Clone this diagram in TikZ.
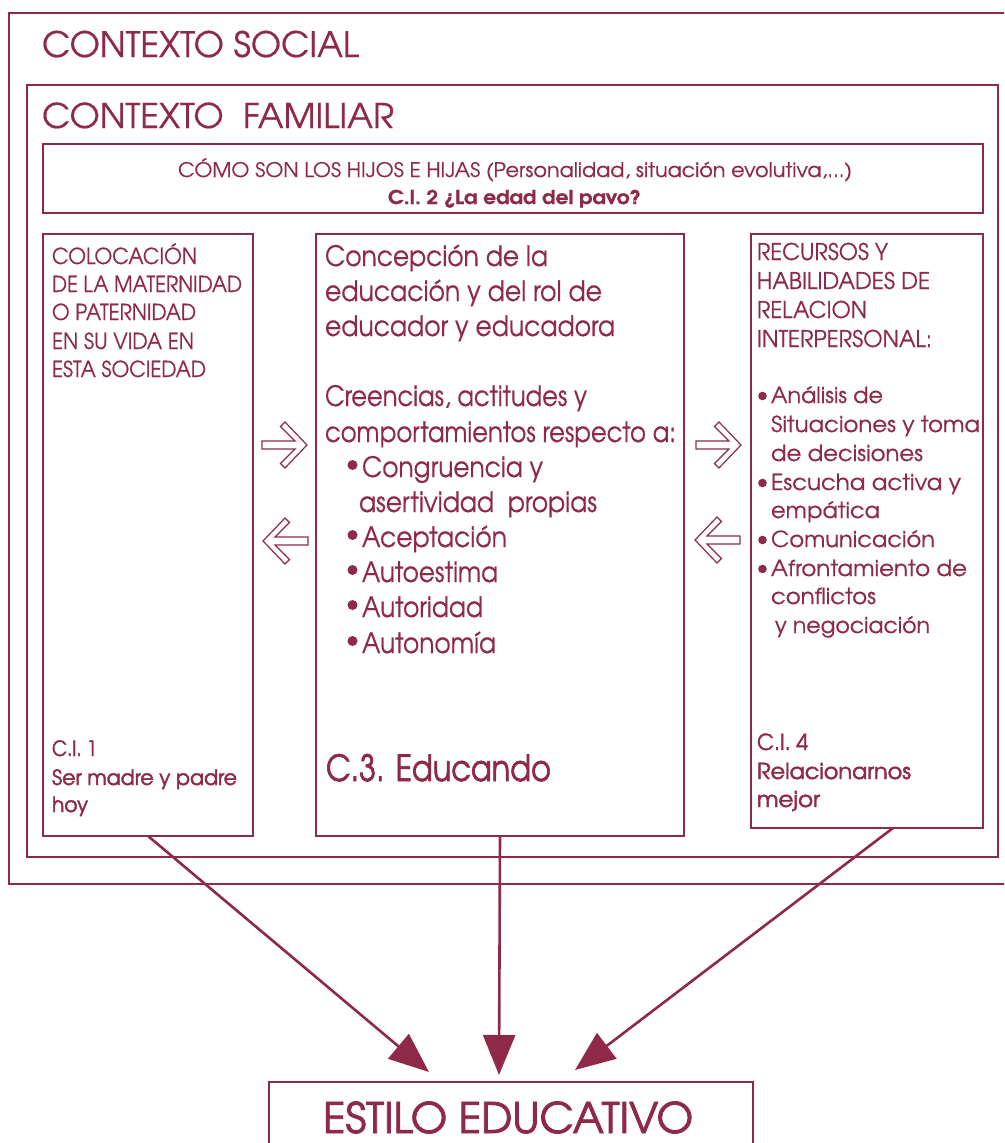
\documentclass[tikz,border=0pt]{standalone}
\usepackage{fontspec}
\usepackage{graphicx}
\setmainfont{texgyreadventor}[Extension=.otf,UprightFont=*-regular,BoldFont=*-bold,ItalicFont=*-italic,BoldItalicFont=*-bolditalic,FakeBold=0.5]
\newfontfamily\semib{texgyreadventor}[Extension=.otf,UprightFont=*-regular,BoldFont=*-bold,FakeBold=2]
\newfontfamily\heavy{texgyreadventor}[Extension=.otf,UprightFont=*-bold,FakeBold=1]
\usetikzlibrary{arrows.meta,calc}
\definecolor{mar}{RGB}{142,42,72}
\newcommand{\fw}[2]{\resizebox{#1pt}{\height}{#2}}
\tikzset{
  boxst/.style={draw=mar, line width=2.6pt, inner sep=0pt, outer sep=0pt, anchor=north west},
  ln/.style={anchor=base west, inner sep=0pt, outer sep=0pt, text=mar},
  bigarrow/.style={draw=mar, line width=2.6pt, -{Triangle[length=40pt,width=32pt]}},
  harrow/.pic={\draw[mar, line width=1.2pt, fill=white, line join=miter]
     (0,0) -- (-22,-23) -- (-26.5,-18.5) -- (-12,-4) -- (-45,-4) -- (-45,4) -- (-12,4) -- (-26.5,18.5) -- (-22,23) -- cycle;},
  bul/.style={fill=mar}
}
\begin{document}
\begin{tikzpicture}[x=1pt,y=-1pt]
\useasboundingbox (0,0) rectangle (1004,1143);
\clip (0,0) rectangle (1004,1143);
\fill[white] (0,0) rectangle (1004,1143);

% boxes
\node[boxst, minimum width=1020pt, minimum height=871pt] (social) at (9,13) {};
\node[boxst, minimum width=971pt, minimum height=772pt] (familiar) at (27,85) {};
\node[boxst, minimum width=940pt, minimum height=69pt] (hijos) at (43,144) {};
\node[boxst, minimum width=210pt, minimum height=602pt] (lbox) at (43,234) {};
\node[boxst, minimum width=368pt, minimum height=602pt] (mbox) at (316,234) {};
\node[boxst, minimum width=232pt, minimum height=594pt] (rbox) at (751,234) {};
\node[boxst, minimum width=484pt, minimum height=120pt] (estilo) at (269,1082) {};

% titles
\node[ln, font=\fontsize{35}{40}\selectfont] (tsocial) at (42,57) {\fw{317}{CONTEXTO SOCIAL}};
\node[ln, font=\fontsize{34}{40}\selectfont] (tfamiliar) at (42,128) {\fw{352}{CONTEXTO\ \ FAMILIAR}};
\node[ln, font=\fontsize{20}{24}\selectfont] (thijos1) at (178,177) {\fw{674}{CÓMO SON LOS HIJOS E HIJAS (Personalidad, situación evolutiva,...)}};
\node[ln, font=\fontsize{19}{24}\selectfont\heavy] (thijos2) at (388,204) {\fw{253}{C.I. 2 ¿La edad del pavo?}};

% left box
\foreach \yy/\ww/\txt [count=\i] in {264/145/COLOCACIÓN, 292/190/DE LA MATERNIDAD, 320/144/O PATERNIDAD, 349/142/EN SU VIDA EN, 377/154/ESTA SOCIEDAD}
  \node[ln, font=\fontsize{22}{28}\selectfont, name=lt\i] at (52,\yy) {\fw{\ww}{\txt}};
\foreach \yy/\ww/\txt [count=\i] in {756/45/C.I. 1, 785/185/Ser madre y padre, 812/36/hoy}
  \node[ln, font=\fontsize{21}{28}\selectfont\semib, name=lb\i] at (52,\yy) {\fw{\ww}{\txt}};

% middle box
\foreach \xx/\yy/\ww/\txt [count=\i] in {325/266/223/Concepción de la, 325/301/277/educación y del rol de, 325/336/290/educador y educadora, 325/406/262/{Creencias, actitudes y}, 325/442/351/comportamientos respecto a:, 362/477/181/Congruencia y, 359/512/238/asertividad\ \ propias, 362/547/145/Aceptación, 362/582/136/Autoestima, 362/617/121/Autoridad, 362/653/134/Autonomía}
  \node[ln, font=\fontsize{28}{34}\selectfont, name=mt\i] at (\xx,\yy) {\fw{\ww}{\txt}};
\foreach \yy in {465,535,570,605,641}
  \fill[bul] (352.5,\yy) circle (5);
\node[ln, font=\fontsize{36}{40}\selectfont\semib] (educando) at (326,781) {\fw{225}{C.3. Educando}};

% right box
\foreach \yy/\ww/\txt [count=\i] in {260/131/RECURSOS Y, 289/173/HABILIDADES DE, 318/110/RELACION, 347/175/INTERPERSONAL:}
  \node[ln, font=\fontsize{23}{28}\selectfont, name=rt\i] at (757,\yy) {\fw{\ww}{\txt}};
\foreach \xx/\yy/\ww/\txt [count=\i] in {771/403/112/Análisis de, 771/432/209/Situaciones y toma, 771/461/152/de decisiones, 771/490/190/Escucha activa y, 771/518/109/empática, 771/547/164/Comunicación, 771/576/196/Afrontamiento de, 771/604/105/conflictos, 775/633/155/y negociación}
  \node[ln, font=\fontsize{22}{28}\selectfont, name=rm\i] at (\xx,\yy) {\fw{\ww}{\txt}};
\foreach \yy in {396,483,540,569}
  \fill[bul] (762.5,\yy) circle (4.3);
\foreach \yy/\ww/\txt [count=\i] in {750/51/C.I. 4, 779/154/Relacionarnos, 807/63/mejor}
  \node[ln, font=\fontsize{22}{28}\selectfont\semib, name=rb\i] at (757,\yy) {\fw{\ww}{\txt}};

% bottom
\node[ln, font=\fontsize{42}{48}\selectfont\semib] (testilo) at (323,1133) {\fw{370}{ESTILO EDUCATIVO}};

% hollow arrows
\pic at (307,445) {harrow};
\pic[rotate=180] at (263,541) {harrow};
\pic at (741,445) {harrow};
\pic[rotate=180] at (695,540) {harrow};

% big arrows
\coordinate (tipL) at ($(estilo.north)+(-82,-10)$);
\coordinate (tipM) at ($(estilo.north)+(-12,-7)$);
\coordinate (tipR) at ($(estilo.north)+(64,-12)$);
\coordinate (srcR) at ($(rbox.south)+(26,0)$);
\draw[bigarrow] (lbox.south) -- (tipL);
\draw[bigarrow] (mbox.south) -- (tipM);
\draw[bigarrow] (srcR) -- (tipR);
\end{tikzpicture}
\end{document}
